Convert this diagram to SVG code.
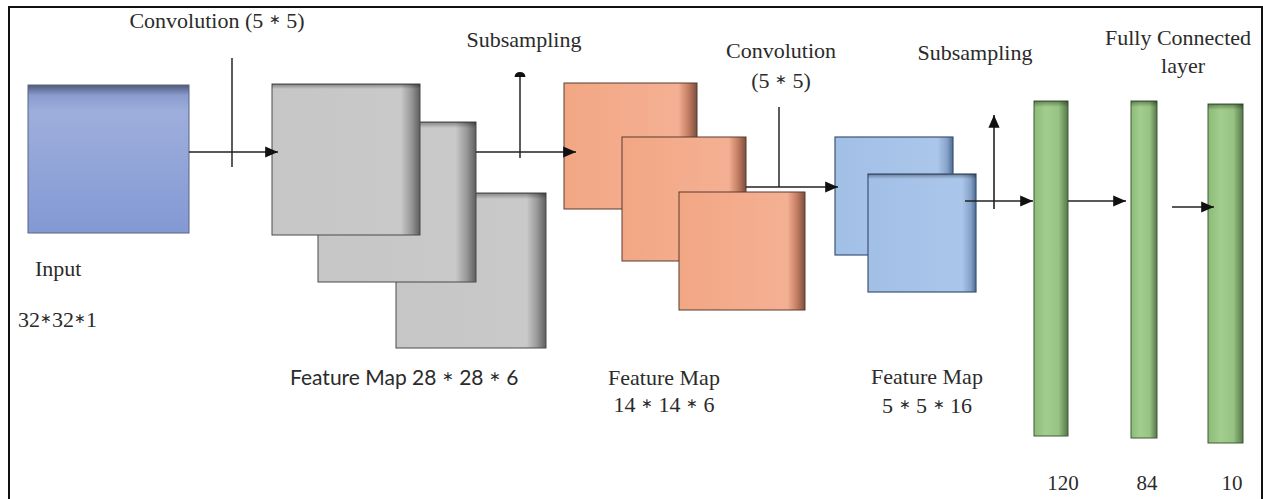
<svg xmlns="http://www.w3.org/2000/svg" width="1263" height="499" viewBox="0 0 1263 499">
<defs>
<linearGradient id="gIn" x1="0" y1="0" x2="0" y2="1">
<stop offset="0" stop-color="#4f5b7c"/><stop offset="0.07" stop-color="#8a9bcf"/><stop offset="0.18" stop-color="#9eaedc"/><stop offset="1" stop-color="#8399d4"/>
</linearGradient>
<linearGradient id="gGray" x1="0" y1="0" x2="1" y2="0">
<stop offset="0" stop-color="#c6c6c6"/><stop offset="0.87" stop-color="#c9c9c9"/><stop offset="0.94" stop-color="#999"/><stop offset="1" stop-color="#5e5e5e"/>
</linearGradient>
<linearGradient id="gOr" x1="0" y1="0" x2="1" y2="0">
<stop offset="0" stop-color="#f2a784"/><stop offset="0.86" stop-color="#f4b093"/><stop offset="0.94" stop-color="#c07a60"/><stop offset="1" stop-color="#7a4f40"/>
</linearGradient>
<linearGradient id="gBl" x1="0" y1="0" x2="1" y2="0">
<stop offset="0" stop-color="#a2bfe6"/><stop offset="0.87" stop-color="#abc6ea"/><stop offset="0.95" stop-color="#86a2c8"/><stop offset="1" stop-color="#4e6a90"/>
</linearGradient>
<linearGradient id="gGr" x1="0" y1="0" x2="1" y2="0">
<stop offset="0" stop-color="#8cbb77"/><stop offset="0.35" stop-color="#a3cd8e"/><stop offset="0.72" stop-color="#97c482"/><stop offset="1" stop-color="#56764b"/>
</linearGradient>
<linearGradient id="gTop" x1="0" y1="0" x2="0" y2="1">
<stop offset="0" stop-color="#000" stop-opacity="0.35"/><stop offset="1" stop-color="#000" stop-opacity="0"/>
</linearGradient>
<marker id="ah" viewBox="0 0 10 10" refX="10" refY="5" markerWidth="8" markerHeight="7" orient="auto" markerUnits="strokeWidth" preserveAspectRatio="none">
<path d="M0,0 L10,5 L0,10 z" fill="#111"/>
</marker>
</defs>
<style>
text{font-family:"Liberation Serif","Times New Roman",serif;fill:#2b2b2b;font-size:22px}
.cal{font-family:Lato,"Open Sans",sans-serif;font-size:21px}
.num{font-size:21px}
.st{font-size:14px;baseline-shift:4px}
.ln{stroke:#333;stroke-width:1.6;fill:none}
.ar{stroke:#222;stroke-width:1.6;fill:none;marker-end:url(#ah)}
.gray{fill:url(#gGray);stroke:#4a4a4a;stroke-width:1}
.or{fill:url(#gOr);stroke:#5a3a2e;stroke-width:1}
.bl{fill:url(#gBl);stroke:#3b5478;stroke-width:1.2}
.gr{fill:url(#gGr);stroke:#3e5a36;stroke-width:1}
.top{fill:url(#gTop)}
</style>
<rect x="9" y="7" width="1253" height="500" fill="#fff" stroke="#111" stroke-width="2"/>

<g id="input">
<rect x="28" y="85" width="161" height="148" fill="url(#gIn)" stroke="#5a6482" stroke-width="1"/>
<text x="35" y="276">Input</text>
<text x="18" y="327">32<tspan class="st">∗</tspan>32<tspan class="st">∗</tspan>1</text>
</g>

<g id="fm1">
<rect class="gray" x="396" y="193" width="150" height="155"/>
<rect class="top" x="396" y="193" width="150" height="6"/>
<rect class="gray" x="318" y="122" width="158" height="160"/>
<rect class="top" x="318" y="122" width="158" height="6"/>
<rect class="gray" x="272" y="84" width="148" height="151"/>
<rect class="top" x="272" y="84" width="148" height="5"/>
<text class="cal" x="290" y="385">Feature Map 28 <tspan class="st">∗</tspan> 28 <tspan class="st">∗</tspan> 6</text>
</g>

<g id="fm2">
<rect class="or" x="564" y="83" width="133" height="126"/>
<rect class="or" x="622" y="137" width="124" height="124"/>
<rect class="or" x="679" y="192" width="126" height="118"/>
<text x="664" y="385" text-anchor="middle">Feature Map</text>
<text x="664" y="412" text-anchor="middle">14 <tspan class="st">∗</tspan> 14 <tspan class="st">∗</tspan> 6</text>
</g>

<g id="fm3">
<rect class="bl" x="835" y="137" width="118" height="118"/>
<rect class="bl" x="868" y="174" width="108" height="118"/>
<rect class="top" x="868" y="174" width="108" height="5"/>
<text x="927" y="384" text-anchor="middle">Feature Map</text>
<text x="927" y="413" text-anchor="middle">5 <tspan class="st">∗</tspan> 5 <tspan class="st">∗</tspan> 16</text>
</g>

<g id="fc120">
<rect class="gr" x="1034" y="101" width="34" height="335"/>
<rect class="top" x="1034" y="101" width="34" height="6"/>
<text class="num" x="1063" y="490" text-anchor="middle">120</text>
</g>
<g id="fc84">
<rect class="gr" x="1131" y="101" width="26" height="337"/>
<rect class="top" x="1131" y="101" width="26" height="6"/>
<text class="num" x="1147" y="490" text-anchor="middle">84</text>
</g>
<g id="fc10">
<rect class="gr" x="1208" y="104" width="35" height="339"/>
<rect class="top" x="1208" y="104" width="35" height="6"/>
<text class="num" x="1232" y="490" text-anchor="middle">10</text>
</g>

<g id="labels">
<text x="217" y="28" text-anchor="middle">Convolution (5 <tspan class="st">∗</tspan> 5)</text>
<text x="524" y="47" text-anchor="middle">Subsampling</text>
<text x="781" y="58" text-anchor="middle">Convolution</text>
<text x="781" y="88" text-anchor="middle">(5 <tspan class="st">∗</tspan> 5)</text>
<text x="975" y="60" text-anchor="middle">Subsampling</text>
<text x="1178" y="45" text-anchor="middle">Fully Connected</text>
<text x="1183" y="73" text-anchor="middle">layer</text>
</g>

<g id="connectors">
<line class="ln" x1="232" y1="58" x2="232" y2="167"/>
<line class="ar" x1="189" y1="152" x2="278" y2="152"/>
<line class="ln" x1="520" y1="75" x2="520" y2="158"/>
<path d="M514.5,77 Q515,72 520,72 Q525,72 525.5,77 z" fill="#111"/>
<line class="ar" x1="476" y1="152" x2="576" y2="152"/>
<line class="ln" x1="779" y1="107" x2="779" y2="187"/>
<line class="ar" x1="746" y1="187" x2="838" y2="187"/>
<line class="ar" x1="994" y1="209" x2="994" y2="115"/>
<line class="ar" x1="965" y1="201" x2="1033" y2="201"/>
<line class="ar" x1="1068" y1="201" x2="1126" y2="201"/>
<line class="ar" x1="1172" y1="207" x2="1214" y2="207"/>
</g>
</svg>
